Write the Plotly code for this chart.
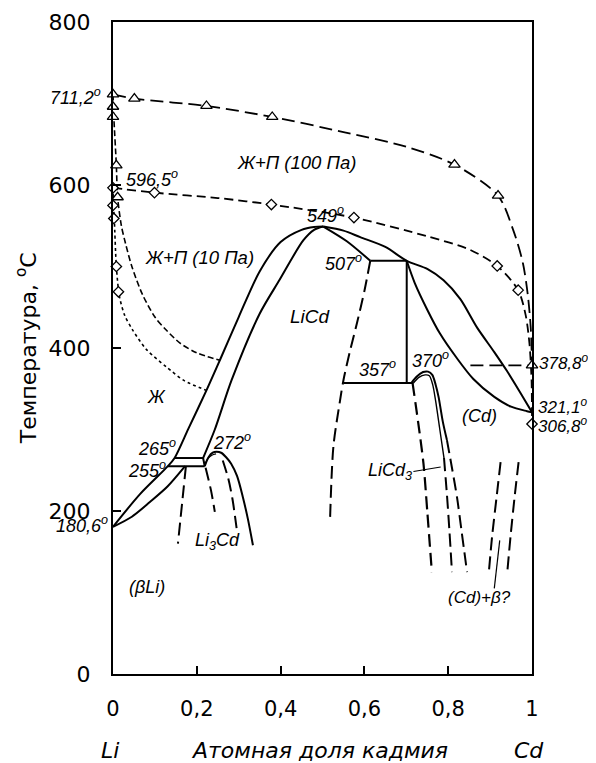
import plotly.graph_objects as go

FONT = "Liberation Sans, Arial, sans-serif"
AXFONT = "DejaVu Sans, Liberation Sans, sans-serif"

# ---------------- data (x = atomic fraction Cd, t = temperature, C) ----------------
# vapour boundaries Ж+П
vap100_x = [0, 0.05, 0.223, 0.38, 0.55, 0.70, 0.815, 0.919, 0.955, 0.978, 0.99, 0.997, 1.0]
vap100_t = [711.2, 706, 697, 683.5, 665, 647, 625, 587, 545, 505, 465, 425, 378.8]
vap10_x = [0, 0.099, 0.25, 0.378, 0.575, 0.75, 0.85, 0.917, 0.967, 0.985, 0.994, 0.999, 1.0]
vap10_t = [596.5, 590.6, 584, 576, 560, 537, 521, 500.7, 471, 440, 405, 360, 306.8]
liq100_x = [0.0, 0.002, 0.008, 0.011, 0.02, 0.03, 0.045, 0.07, 0.1, 0.127, 0.16, 0.2, 0.255]
liq100_t = [711.2, 683, 624, 585, 550, 528, 500, 466, 438, 422, 406, 394, 385]
liq10_x = [0, 0.001, 0.003, 0.008, 0.0155, 0.028, 0.047, 0.08, 0.127, 0.17, 0.223]
liq10_t = [596.5, 575, 559, 500, 463, 440, 422, 398, 377, 360, 348]
tri_x = [0, 0, 0, 0.008, 0.011, 0.051, 0.223, 0.38, 0.815, 0.919, 1.0]
tri_t = [711.2, 696, 683.5, 624, 585, 706, 697, 683.5, 625, 587, 378.8]
dia_x = [0, 0, 0.002, 0.008, 0.013, 0.099, 0.378, 0.575, 0.917, 0.967, 1.0]
dia_t = [596.5, 575, 559, 500, 469, 590.6, 576, 560, 500.7, 471, 306.8]

# condensed-phase diagram
liqL_x = [0, 0.065, 0.131, 0.147, 0.18, 0.223, 0.255, 0.30, 0.35, 0.40, 0.45, 0.48, 0.502]
liqL_t = [180.6, 221, 255, 265, 301, 348, 385, 438, 494, 530, 545, 548.5, 549]
solL_x = [0.215, 0.243, 0.283, 0.35, 0.398, 0.454, 0.48, 0.502]
solL_t = [265, 300, 360.5, 442, 484, 532, 545, 549]
h265_x = [0.147, 0.215]
h265_t = [265, 265]
h255_x = [0.131, 0.219]
h255_t = [255, 255]
vstep_x = [0.215, 0.219]
vstep_t = [265, 255]
bli_x = [0, 0.045, 0.088, 0.13, 0.172]
bli_t = [180.6, 193, 211, 230, 255]
li3cd_dl_x = [0.174, 0.165, 0.155]
li3cd_dl_t = [255, 210, 160]
li3cd_out_x = [0.219, 0.228, 0.238, 0.247, 0.258, 0.27, 0.282, 0.296, 0.31, 0.322, 0.334]
li3cd_out_t = [255, 266, 271.5, 272.6, 271.5, 266, 258, 243, 217, 190, 158]
li3cd_in_x = [0.219, 0.226, 0.236, 0.246]
li3cd_in_t = [257, 264, 268.5, 270]
li3cd_dm_x = [0.221, 0.234, 0.243]
li3cd_dm_t = [253, 225, 199]
li3cd_dr_x = [0.262, 0.275, 0.285, 0.295]
li3cd_dr_t = [262, 240, 215, 179]

liqR_x = [0.502, 0.55, 0.59, 0.65, 0.701, 0.75, 0.789, 0.829, 0.869, 0.91, 0.94, 0.97, 1.0]
liqR_t = [549, 544, 536, 524, 507, 497, 483, 460, 425, 395, 372, 347, 321.1]
solR_x = [0.701, 0.72, 0.75, 0.78, 0.82, 0.86, 0.91, 0.95, 0.988, 1.0]
solR_t = [507, 480, 447, 418, 388, 362, 340, 328, 322.5, 321.1]
licd_d_x = [0.614, 0.6, 0.582, 0.565, 0.55, 0.542, 0.526, 0.518]
licd_d_t = [507, 470, 430, 395, 360.5, 336, 279, 189]
peak_x = [0.502, 0.558, 0.614]
peak_t = [549, 531, 507]
h507_x = [0.614, 0.701]
h507_t = [507, 507]
v701_x = [0.701, 0.701]
v701_t = [507, 357]
h357_x = [0.55, 0.717]
h357_t = [357, 357]

licd3_os_x = [0.712, 0.725, 0.74, 0.752, 0.762, 0.77, 0.777, 0.787, 0.797]
licd3_os_t = [357, 365, 370.5, 371, 367, 355, 340, 310, 287]
licd3_od_x = [0.797, 0.81, 0.821, 0.832, 0.845]
licd3_od_t = [287, 250, 217, 175, 125]
licd3_is_x = [0.717, 0.73, 0.745, 0.755, 0.763, 0.77, 0.78, 0.79]
licd3_is_t = [357, 364, 367, 366, 355, 335, 300, 265]
licd3_id_x = [0.79, 0.797, 0.803, 0.809]
licd3_id_t = [265, 220, 175, 125]
licd3_l_x = [0.715, 0.728, 0.741, 0.75, 0.761]
licd3_l_t = [357, 310, 258, 200, 125]

h378_x = [0.853, 1.0]
h378_t = [378.8, 378.8]
cdb1_x = [0.925, 0.915, 0.905, 0.897]
cdb1_t = [260, 215, 170, 125]
cdb2_x = [0.968, 0.958, 0.949, 0.941]
cdb2_t = [260, 215, 170, 125]
lead1_x = [0.717, 0.782]
lead1_t = [248.5, 254]
lead2_x = [0.923, 0.91]
lead2_t = [164, 105]

xtick_vals = [0, 0.2, 0.4, 0.6, 0.8, 1.0]
xtick_text = ["0", "0,2", "0,4", "0,6", "0,8", "1"]
ytick_vals = [0, 200, 400, 600, 800]
ytick_text = ["0", "200", "400", "600", "800"]
T_MAX = 800.0

# ---------------- figure ----------------
fig = go.Figure()


def line(x, t, dash="solid", width=2.0, shape="spline"):
    fig.add_trace(go.Scatter(x=x, y=t, mode="lines", showlegend=False, hoverinfo="skip",
                             line=dict(color="black", width=width, dash=dash, shape=shape,
                                       smoothing=0.8)))


LONG = "13px,6px"
MED = "9px,5px"
SHORT = "6px,3px"
DOT = "3px,3px"

line(vap100_x, vap100_t, LONG, 1.8)
line(vap10_x, vap10_t, MED, 1.8)
line(liq100_x, liq100_t, SHORT, 1.6)
line(liq10_x, liq10_t, DOT, 1.6)

line(liqL_x, liqL_t)
line(solL_x, solL_t)
line(h265_x, h265_t, shape="linear")
line(h255_x, h255_t, shape="linear")
line(vstep_x, vstep_t, shape="linear")
line(bli_x, bli_t)
line(li3cd_dl_x, li3cd_dl_t, LONG)
line(li3cd_out_x, li3cd_out_t)
line(li3cd_in_x, li3cd_in_t, width=1.2)
line(li3cd_dm_x, li3cd_dm_t, LONG)
line(li3cd_dr_x, li3cd_dr_t, LONG)

line(liqR_x, liqR_t)
line(solR_x, solR_t)
line(licd_d_x, licd_d_t, LONG)
line(peak_x, peak_t)
line(h507_x, h507_t, shape="linear")
line(v701_x, v701_t, shape="linear")
line(h357_x, h357_t, shape="linear")
line(licd3_os_x, licd3_os_t)
line(licd3_od_x, licd3_od_t, LONG)
line(licd3_is_x, licd3_is_t, width=1.4)
line(licd3_id_x, licd3_id_t, LONG)
line(licd3_l_x, licd3_l_t, LONG, 2.2)
line(h378_x, h378_t, LONG, 1.8, "linear")
line(cdb1_x, cdb1_t, LONG)
line(cdb2_x, cdb2_t, LONG)
line(lead1_x, lead1_t, width=1.2, shape="linear")
line(lead2_x, lead2_t, width=1.2, shape="linear")

fig.add_trace(go.Scatter(x=tri_x, y=tri_t, mode="markers", showlegend=False, cliponaxis=False,
                         marker=dict(symbol="triangle-up", size=10, color="white",
                                     line=dict(color="black", width=1.3))))
fig.add_trace(go.Scatter(x=dia_x, y=dia_t, mode="markers", showlegend=False, cliponaxis=False,
                         marker=dict(symbol="diamond", size=8, color="white",
                                     line=dict(color="black", width=1.3))))

DEG = "<sup>o</sup>"
labels = [
    # text, x (Cd fraction), t, xanchor, size
    ("711,2" + DEG, -0.025, 708, "right", 18),
    ("596,5" + DEG, 0.027, 608, "left", 18),
    ("Ж+П (100 Па)", 0.437, 628, "center", 18.5),
    ("549" + DEG, 0.508, 564, "center", 18),
    ("Ж+П (10 Па)", 0.207, 511, "center", 18.5),
    ("507" + DEG, 0.551, 505, "center", 18),
    ("LiCd", 0.472, 439, "center", 19),
    ("Ж", 0.105, 340, "center", 18),
    ("265" + DEG, 0.104, 278, "center", 18),
    ("255" + DEG, 0.080, 251, "center", 18),
    ("272" + DEG, 0.283, 285, "center", 18),
    ("180,6" + DEG, -0.008, 184, "right", 18),
    ("357" + DEG, 0.632, 375, "center", 18),
    ("370" + DEG, 0.757, 386, "center", 18),
    ("378,8" + DEG, 1.012, 383, "left", 17),
    ("321,1" + DEG, 1.010, 329, "left", 17),
    ("306,8" + DEG, 1.010, 305, "left", 17),
    ("(Cd)", 0.874, 316, "center", 18),
    ("LiCd<sub>3</sub>", 0.661, 249, "center", 18),
    ("Li<sub>3</sub>Cd", 0.250, 163, "center", 18),
    ("(βLi)", 0.081, 107, "center", 18),
    ("(Cd)+β?", 0.874, 94, "center", 17),
]
# paper coordinates: x range is [0, 1] so paper x == Cd fraction; paper y == t / 800
for text, x, t, xa, sz in labels:
    fig.add_annotation(x=x, y=t / T_MAX, xref="paper", yref="paper", text="<i>" + text + "</i>",
                       showarrow=False, xanchor=xa, yanchor="middle",
                       font=dict(family=FONT, size=sz, color="black"))

bottom_labels = [("Li", -0.008), ("Атомная доля кадмия", 0.494), ("Cd", 0.994)]
for text, x in bottom_labels:
    fig.add_annotation(x=x, y=-94 / T_MAX, xref="paper", yref="paper", text="<i>" + text + "</i>",
                       showarrow=False, xanchor="center", yanchor="middle",
                       font=dict(family=AXFONT, size=22, color="black"))

fig.add_annotation(x=-0.207, y=400 / T_MAX, xref="paper", yref="paper",
                   text="Температура, " + DEG + "C", textangle=-90, showarrow=False,
                   xanchor="center", yanchor="middle",
                   font=dict(family=AXFONT, size=22, color="black"))

# the page body adds an 8px offset, so the figure is 8px smaller than the window
fig.update_layout(
    width=588, height=755,
    margin=dict(l=105, r=64, t=14, b=89, autoexpand=False),
    plot_bgcolor="white", paper_bgcolor="white",
    font=dict(family=FONT, color="black"),
    showlegend=False,
)
fig.update_xaxes(range=[0, 1], tickvals=xtick_vals, ticktext=xtick_text, ticks="inside", ticklen=8,
                 tickwidth=2, tickcolor="black", showline=True, linewidth=2, linecolor="black",
                 mirror=True, showgrid=False, zeroline=False, ticklabelstandoff=15, automargin=False,
                 tickfont=dict(family=AXFONT, size=21, color="black"))
fig.update_yaxes(range=[0, 800], tickvals=ytick_vals, ticktext=ytick_text, ticks="inside", ticklen=8,
                 tickwidth=2, tickcolor="black", showline=True, linewidth=2, linecolor="black",
                 mirror=True, showgrid=False, zeroline=False, ticklabelstandoff=16, automargin=False,
                 tickfont=dict(family=AXFONT, size=22, color="black"))

fig.write_html("out.html")
